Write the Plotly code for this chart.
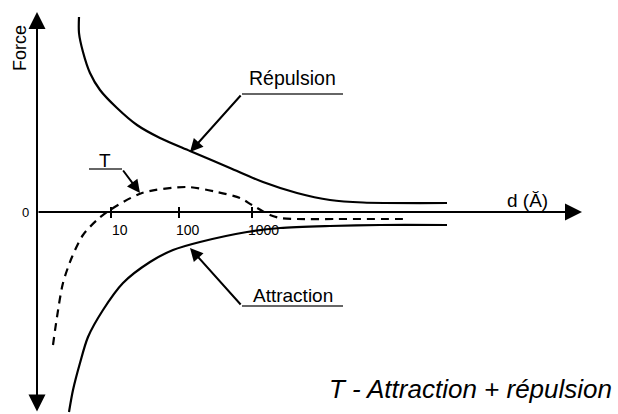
import plotly.graph_objects as go

# distance (horizontal, arbitrary units from the force axis) and force values
repulsion_d = [42, 42, 46, 53, 63, 80, 100, 123, 153, 193, 226, 260, 293, 326, 410]
repulsion_f = [195, 179, 160, 139, 122, 104, 87, 74, 61, 44, 30, 19, 12, 9.5, 9]

attraction_d = [32, 36, 43, 51, 66, 86, 113, 136, 163, 210, 243, 293, 343, 410]
attraction_f = [-200, -178, -151, -125, -98, -71, -50, -38, -30, -20, -16, -14, -13, -13]

total_d = [16, 20, 26, 35, 46, 60, 73, 105, 150, 180, 203, 215, 233, 243, 260, 300, 370]
total_f = [-133, -105, -71, -45, -23, -8, 2, 19, 25, 20, 14, 7, -3, -6, -7, -7, -7]

tick_d = [74, 142, 215]
tick_labels = ["10", "100", "1000"]

FONT = "Liberation Sans, Arial, sans-serif"

fig = go.Figure()

curve = dict(color="black", width=2.2, shape="spline", smoothing=0.8)
fig.add_trace(go.Scatter(x=repulsion_d, y=repulsion_f, mode="lines", line=curve))
fig.add_trace(go.Scatter(x=attraction_d, y=attraction_f, mode="lines", line=curve))
fig.add_trace(go.Scatter(x=total_d, y=total_f, mode="lines",
                         line=dict(curve, dash="8px,6px")))

# ticks on the distance axis
tx, ty = [], []
for d in tick_d:
    tx += [d, d, None]
    ty += [5, -6, None]
fig.add_trace(go.Scatter(x=tx, y=ty, mode="lines", line=dict(color="black", width=2)))

# underlines of the labels
ux = [205, 306, None, 205, 306, None, 52, 85]
uy = [118, 118, None, -94, -94, None, 43, 43]
fig.add_trace(go.Scatter(x=ux, y=uy, mode="lines", line=dict(color="#333", width=1.5)))

ann = []


def arrow(x, y, ax, ay, size=1.3, width=2, side="end"):
    ann.append(dict(x=x, y=y, ax=ax, ay=ay, xref="x", yref="y", axref="x", ayref="y",
                    text="", showarrow=True, arrowhead=2, arrowsize=size,
                    arrowwidth=width, arrowcolor="black", arrowside=side))


def label(x, y, text, size=19, angle=0, italic=False):
    ann.append(dict(x=x, y=y, xref="x", yref="y", text=text, showarrow=False,
                    textangle=angle,
                    font=dict(family=FONT, size=size, color="black",
                              style="italic" if italic else "normal")))


# axes
arrow(545, 0, 0, 0, size=1.7)
arrow(0, 200, 0, -201, size=1.7, side="end+start")

# pointers
arrow(153, 60, 205, 118)
arrow(153, -36, 205, -94)
arrow(103, 19, 85, 43)

label(-17, 164, "Force", size=18, angle=-90)
label(-11.5, 0, "0", size=13)
for d, t in zip([83, 151, 226], tick_labels):
    label(d, -18, t, size=14)
label(490, 12, "d (Ă)")
label(255, 134, "Répulsion", size=19.5)
label(256, -83, "Attraction")
label(68, 52, "T")
label(433, -177, "T - Attraction + répulsion", size=26, italic=True)

fig.update_layout(
    width=618, height=414,
    margin=dict(l=0, r=0, t=0, b=0),
    paper_bgcolor="white", plot_bgcolor="white",
    showlegend=False,
    annotations=ann,
    xaxis=dict(range=[-37, 581], visible=False, fixedrange=True),
    yaxis=dict(range=[-202, 212], visible=False, fixedrange=True),
)

fig.write_html("out.html", config={"displayModeBar": False},
               post_script="document.body.style.margin = '0';")
